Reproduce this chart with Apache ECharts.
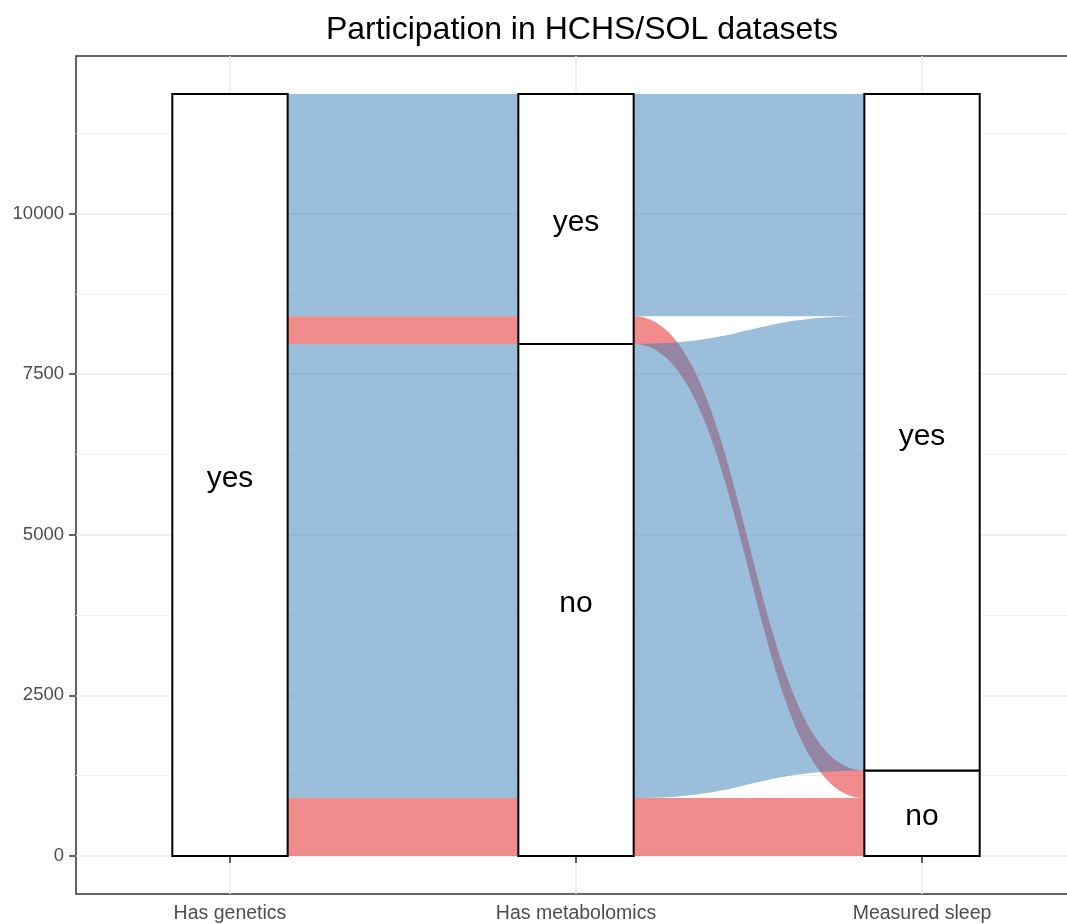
<!DOCTYPE html>
<html><head><meta charset="utf-8">
<script src="https://cdn.jsdelivr.net/npm/echarts@6/dist/echarts.min.js"></script>
<style>html,body{margin:0;padding:0;background:#fff;overflow:hidden}#c{width:1090px;height:924px}</style>
</head><body><div id="c"></div>
<script>
// ---- data ----
const axisNames = ['Has genetics', 'Has metabolomics', 'Measured sleep'];
const strataLevels = ['no', 'yes']; // stacked bottom to top
const alluviumGenetics = ['yes', 'yes', 'yes', 'yes'];
const alluviumMetabolomics = ['no', 'no', 'yes', 'yes'];
const alluviumSleep = ['no', 'yes', 'no', 'yes'];
const alluviumCounts = [900, 7070, 430, 3460];
const yTicks = [0, 2500, 5000, 7500, 10000];
const yMinorTicks = [1250, 3750, 6250, 8750, 11250];
const xTicks = [1, 2, 3];
const fillColors = { no: '#E41A1C', yes: '#377EB8' };

// ---- layout computation (stacking) ----
const axesValues = [alluviumGenetics, alluviumMetabolomics, alluviumSleep];
const nA = alluviumCounts.length;
const total = alluviumCounts.reduce((a, b) => a + b, 0);
const halfW = 1 / 6;
const lvl = v => strataLevels.indexOf(v);
const pos = []; // pos[axis][alluvium] = [lo, hi]
const strataData = [];
axesValues.forEach((vals, j) => {
  const order = [...Array(nA).keys()].sort((a, b) => {
    const keys = [j, ...[0, 1, 2].filter(k => k !== j)];
    for (const k of keys) {
      const d = lvl(axesValues[k][a]) - lvl(axesValues[k][b]);
      if (d !== 0) return d;
    }
    return 0;
  });
  let cum = 0;
  pos[j] = [];
  order.forEach(a => { pos[j][a] = [cum, cum + alluviumCounts[a]]; cum += alluviumCounts[a]; });
  strataLevels.forEach(L => {
    const members = order.filter(a => vals[a] === L);
    if (!members.length) return;
    const lo = Math.min(...members.map(a => pos[j][a][0]));
    const hi = Math.max(...members.map(a => pos[j][a][1]));
    strataData.push([xTicks[j], lo, hi, L]);
  });
});
const flowData = [];
for (let j = 0; j < axesValues.length - 1; j++) {
  for (let a = 0; a < nA; a++) {
    flowData.push([xTicks[j], xTicks[j + 1], pos[j][a][0], pos[j][a][1], pos[j + 1][a][0], pos[j + 1][a][1], alluviumSleep[a]]);
  }
}
// draw red (no) first, blue on top
flowData.sort((p, q) => lvl(p[6]) - lvl(q[6]));

const yMin = -0.05 * total, yMax = total * 1.05;
const FONT = '"Liberation Sans", Arial, Helvetica, sans-serif';

const chart = echarts.init(document.getElementById('c'), null, { renderer: 'canvas' });
chart.setOption({
  animation: false,
  backgroundColor: '#ffffff',
  title: {
    text: 'Participation in HCHS/SOL datasets',
    left: 577, top: 9, textAlign: 'center',
    textStyle: { fontFamily: FONT, fontSize: 32, fontWeight: 'normal', color: '#000' }
  },
  grid: { left: 76, top: 56, width: 1000, height: 839, show: true, borderColor: '#333333', borderWidth: 1.5, backgroundColor: 'transparent' },
  xAxis: {
    type: 'value', min: 0.555, max: 3.445,
    axisLine: { show: false },
    axisTick: { show: true, customValues: xTicks, length: 7, lineStyle: { color: '#333', width: 1.5 } },
    axisLabel: { customValues: xTicks, formatter: v => axisNames[Math.round(v) - 1], fontFamily: FONT, fontSize: 19.5, color: '#4D4D4D', margin: 10 },
    splitLine: { show: true, customValues: xTicks, lineStyle: { color: '#EBEBEB', width: 1.5 } }
  },
  yAxis: [{
    type: 'value', min: yMin, max: yMax,
    axisLine: { show: false },
    axisTick: { show: true, customValues: yTicks, length: 7, lineStyle: { color: '#333', width: 1.5 } },
    axisLabel: { customValues: yTicks, formatter: v => String(v), fontFamily: FONT, fontSize: 18.5, color: '#4D4D4D', margin: 12 },
    splitLine: { show: true, customValues: yTicks, lineStyle: { color: '#EBEBEB', width: 1.5 } }
  }, {
    type: 'value', min: yMin, max: yMax, position: 'left',
    axisLine: { show: false }, axisTick: { show: false, customValues: yMinorTicks }, axisLabel: { show: false, customValues: yMinorTicks },
    splitLine: { show: true, customValues: yMinorTicks, lineStyle: { color: '#F0F0F0', width: 1 } }
  }],
  series: [{
    type: 'custom',
    name: 'flows',
    coordinateSystem: 'cartesian2d',
    data: flowData,
    encode: { x: [0, 1], y: [2, 3, 4, 5] },
    renderItem: (params, api) => {
      const x0 = api.value(0) + halfW, x1 = api.value(1) - halfW;
      const a = api.coord([x0, api.value(2)]), b = api.coord([x0, api.value(3)]);
      const c = api.coord([x1, api.value(4)]), d = api.coord([x1, api.value(5)]);
      const xm = (a[0] + c[0]) / 2;
      const path = `M${b[0]},${b[1]} C${xm},${b[1]} ${xm},${d[1]} ${d[0]},${d[1]} L${c[0]},${c[1]} C${xm},${c[1]} ${xm},${a[1]} ${a[0]},${a[1]} Z`;
      return {
        type: 'path',
        shape: { pathData: path },
        style: { fill: fillColors[api.value(6)], opacity: 0.5, stroke: null }
      };
    }
  }, {
    type: 'custom',
    name: 'strata',
    coordinateSystem: 'cartesian2d',
    data: strataData,
    encode: { x: 0, y: [1, 2] },
    z: 5,
    renderItem: (params, api) => {
      const x = api.value(0);
      const tl = api.coord([x - halfW, api.value(2)]);
      const br = api.coord([x + halfW, api.value(1)]);
      return {
        type: 'group',
        children: [{
          type: 'rect',
          shape: { x: tl[0], y: tl[1], width: br[0] - tl[0], height: br[1] - tl[1] },
          style: { fill: '#ffffff', stroke: '#000000', lineWidth: 2 }
        }, {
          type: 'text',
          x: (tl[0] + br[0]) / 2, y: (tl[1] + br[1]) / 2 + 4,
          style: { text: api.value(3), fontFamily: FONT, fontSize: 30, fill: '#000', align: 'center', verticalAlign: 'middle' }
        }]
      };
    }
  }]
});
</script></body></html>
